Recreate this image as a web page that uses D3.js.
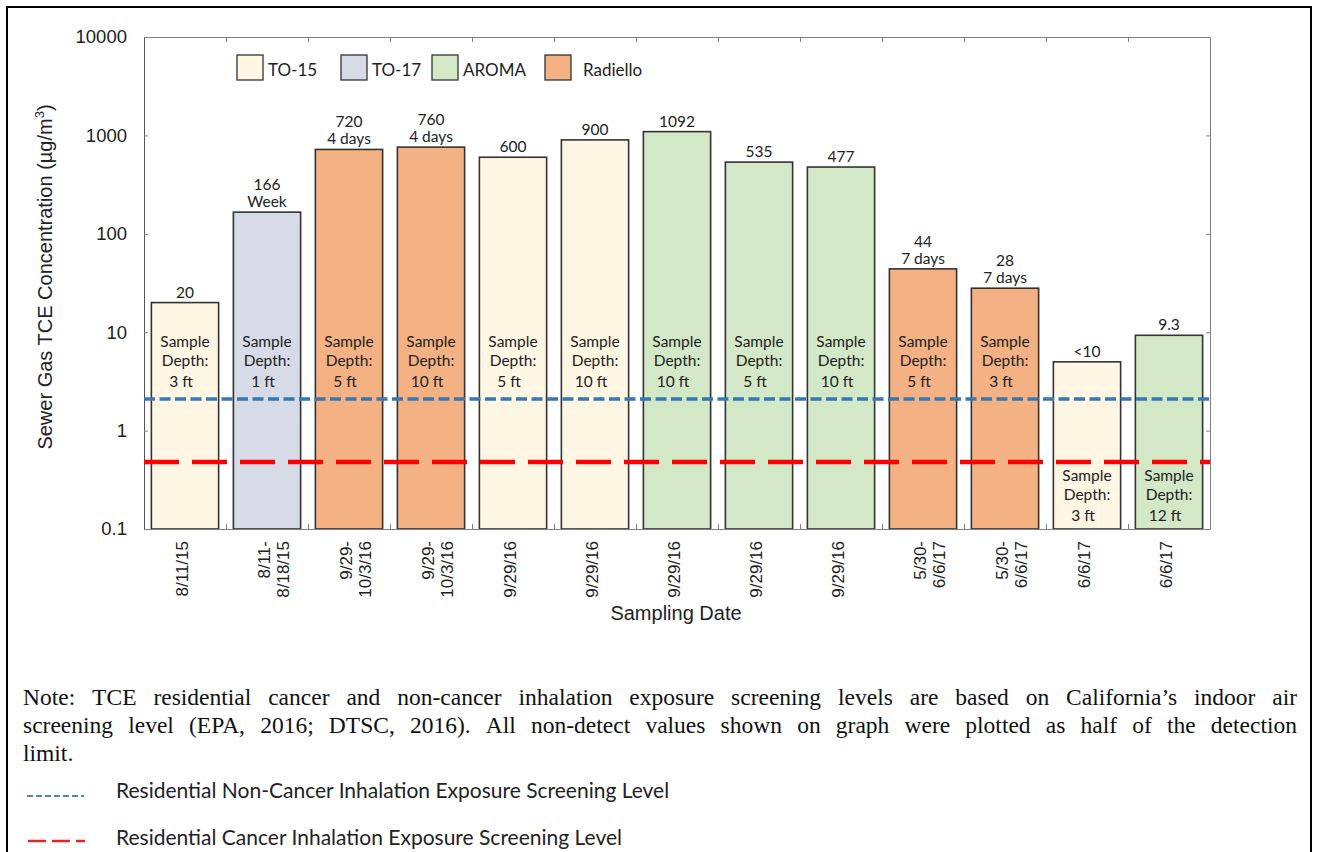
<!DOCTYPE html>
<html>
<head>
<meta charset="utf-8">
<script src="https://cdnjs.cloudflare.com/ajax/libs/d3/7.8.5/d3.min.js"></script>
<style>
  body { margin: 0; background: #fff; }
  svg { display: block; }
</style>
</head>
<body>
<svg id="chart"></svg>
<script>
// Chart data
var dates = [["8/11/15"], ["8/11-", "8/18/15"], ["9/29-", "10/3/16"], ["9/29-", "10/3/16"],
  ["9/29/16"], ["9/29/16"], ["9/29/16"], ["9/29/16"], ["9/29/16"],
  ["5/30-", "6/6/17"], ["5/30-", "6/6/17"], ["6/6/17"], ["6/6/17"]];
var methods = ["TO-15", "TO-17", "Radiello", "Radiello", "TO-15", "TO-15", "AROMA",
  "AROMA", "AROMA", "Radiello", "Radiello", "TO-15", "AROMA"];
// non-detect (<10) plotted as half the detection limit
var values = [20, 166, 720, 760, 600, 900, 1092, 535, 477, 44, 28, 5, 9.3];
var valueLabels = [["20"], ["166", "Week"], ["720", "4 days"], ["760", "4 days"], ["600"], ["900"],
  ["1092"], ["535"], ["477"], ["44", "7 days"], ["28", "7 days"], ["<10"], ["9.3"]];
var depths = ["3 ft", "1 ft", "5 ft", "10 ft", "5 ft", "10 ft", "10 ft", "5 ft", "10 ft",
  "5 ft", "3 ft", "3 ft", "12 ft"];
var legendNames = ["TO-15", "TO-17", "AROMA", "Radiello"];
var yTicks = [0.1, 1, 10, 100, 1000, 10000];
var yTickLabels = ["0.1", "1", "10", "100", "1000", "10000"];
var nonCancerLevel = 2.1;
var cancerLevel = 0.48;

// Define size & plot box
var width = 1319,
    height = 852,
    plotLeft = 144, plotRight = 1210, plotTop = 37, plotBottom = 529;

var colour = d3.scaleOrdinal()
  .domain(legendNames)
  .range(["#fff6e3", "#d6dbe7", "#d3e8c6", "#f4b183"]);

var x = d3.scaleBand()
  .domain(d3.range(values.length))
  .range([plotLeft, plotRight])
  .paddingInner(0.18)
  .paddingOuter(0.09);

// band boundaries for the tick marks
var xEdge = d3.scaleLinear().domain([0, values.length]).range([plotLeft, plotRight]);

var y = d3.scaleLog()
  .domain([0.1, 10000])
  .range([plotBottom, plotTop]);

var svg = d3.select("#chart")
  .attr("width", width)
  .attr("height", height);

// outer frame
svg.append("path")
  .attr("d", "M7,860V7H1311V860")
  .attr("fill", "none")
  .attr("stroke", "#000")
  .attr("stroke-width", 2);

// Bars
svg.selectAll(".bar")
  .data(values)
  .enter().append("rect")
  .attr("class", "bar")
  .attr("x", function (d, i) { return x(i); })
  .attr("y", function (d) { return y(d); })
  .attr("width", x.bandwidth())
  .attr("height", function (d) { return y(0.1) - y(d); })
  .attr("fill", function (d, i) { return colour(methods[i]); })
  .attr("stroke", "#333")
  .attr("stroke-width", 1.6);

// Axes
function styleAxis(g) {
  g.selectAll("path").attr("stroke", "#808080");
  g.selectAll("line").attr("stroke", "#808080");
}

svg.append("g")
  .attr("transform", "translate(0," + plotTop + ")")
  .call(d3.axisTop(xEdge).tickValues(d3.range(1, values.length)).tickSize(-5).tickSizeOuter(0).tickFormat(""))
  .call(styleAxis);

svg.append("g")
  .attr("transform", "translate(0," + plotBottom + ")")
  .call(d3.axisBottom(xEdge).tickValues(d3.range(1, values.length)).tickSize(-5).tickSizeOuter(0).tickFormat(""))
  .call(styleAxis);

svg.append("g")
  .attr("transform", "translate(" + plotRight + ",0)")
  .call(d3.axisRight(y).tickValues(yTicks).tickSize(-4).tickSizeOuter(0).tickFormat(""))
  .call(styleAxis);

var yAxis = svg.append("g")
  .attr("transform", "translate(" + plotLeft + ",0)")
  .call(d3.axisLeft(y).tickValues(yTicks).tickSize(-4).tickSizeOuter(0).tickPadding(17)
    .tickFormat(function (d, i) { return yTickLabels[i]; }))
  .call(styleAxis);
yAxis.select("path").attr("stroke", "#555");
yAxis.selectAll("text")
  .attr("font-family", "Liberation Sans, Arial, sans-serif")
  .attr("font-size", 18.5)
  .attr("fill", "#222");

// x tick labels (rotated)
var xl = svg.selectAll(".xlab")
  .data(dates)
  .enter().append("g")
  .attr("class", "xlab");
xl.each(function (lines, i) {
  var g = d3.select(this);
  lines.forEach(function (t, j) {
    var cx = x(i) + x.bandwidth() / 2 - 3 + j * 19;
    g.append("text")
      .attr("transform", "translate(" + (cx + 6) + ",541) rotate(-90)")
      .attr("text-anchor", "end")
      .attr("font-family", "Liberation Sans, Arial, sans-serif")
      .attr("font-size", 17)
      .attr("fill", "#222")
      .text(t);
  });
});

// Axis titles
svg.append("text")
  .attr("x", 676)
  .attr("y", 620)
  .attr("text-anchor", "middle")
  .attr("font-family", "Liberation Sans, Arial, sans-serif")
  .attr("font-size", 20)
  .attr("fill", "#222")
  .text("Sampling Date");

var yTitle = svg.append("text")
  .attr("transform", "translate(52,277) rotate(-90)")
  .attr("text-anchor", "middle")
  .attr("font-family", "Liberation Sans, Arial, sans-serif")
  .attr("font-size", 20)
  .attr("fill", "#222");
yTitle.append("tspan").text("Sewer Gas TCE Concentration (µg/m");
yTitle.append("tspan").attr("dy", -8).attr("font-size", 13).text("3");
yTitle.append("tspan").attr("dy", 8).text(")");

// Screening levels
svg.append("line")
  .attr("x1", plotLeft).attr("x2", plotRight)
  .attr("y1", y(nonCancerLevel)).attr("y2", y(nonCancerLevel))
  .attr("stroke", "#3478b8")
  .attr("stroke-width", 3.5)
  .attr("stroke-dasharray", "11,4.5");

svg.append("line")
  .attr("x1", plotLeft).attr("x2", plotRight)
  .attr("y1", y(cancerLevel)).attr("y2", y(cancerLevel))
  .attr("stroke", "#ff0000")
  .attr("stroke-width", 4.5)
  .attr("stroke-dasharray", "35,13");

// Value labels above the bars
var calibri = "Lato, Carlito, Calibri, sans-serif";
svg.selectAll(".vlab")
  .data(valueLabels)
  .enter().append("text")
  .attr("class", "vlab")
  .attr("text-anchor", "middle")
  .attr("font-family", calibri)
  .attr("font-size", 15.5)
  .attr("fill", "#222")
  .each(function (lines, i) {
    var t = d3.select(this);
    var cx = x(i) + x.bandwidth() / 2;
    var base = y(values[i]) - 5 - (lines.length - 1) * 17;
    lines.forEach(function (s, j) {
      t.append("tspan").attr("x", cx).attr("y", base + j * 17).text(s);
    });
  });

// Sample depth labels inside the bars
svg.selectAll(".dlab")
  .data(depths)
  .enter().append("text")
  .attr("class", "dlab")
  .attr("text-anchor", "middle")
  .attr("font-family", calibri)
  .attr("font-size", 15.5)
  .attr("fill", "#222")
  .each(function (d, i) {
    var t = d3.select(this);
    var cx = x(i) + x.bandwidth() / 2;
    // short bars carry the label below the screening lines
    var y0 = values[i] < 15 ? y(0.35) + 6 : y(8.2) + 6;
    t.append("tspan").attr("x", cx).attr("y", y0).text("Sample");
    t.append("tspan").attr("x", cx).attr("y", y0 + 19).text("Depth:");
    t.append("tspan").attr("x", cx - 4).attr("y", y0 + 40).text(d);
  });

// Method legend
var legendX = [237, 341, 432, 545];
var lg = svg.selectAll(".legend")
  .data(legendNames)
  .enter().append("g")
  .attr("class", "legend")
  .attr("transform", function (d, i) { return "translate(" + legendX[i] + ",55)"; });
lg.append("rect")
  .attr("width", 26).attr("height", 25)
  .attr("fill", function (d) { return colour(d); })
  .attr("stroke", "#333")
  .attr("stroke-width", 1.3);
lg.append("text")
  .attr("x", function (d, i) { return i == 3 ? 38 : 31; })
  .attr("y", 21)
  .attr("font-family", calibri)
  .attr("font-size", 17)
  .attr("fill", "#222")
  .text(function (d) { return d; });

// Note (justified lines)
var noteLines = [
  "Note: TCE residential cancer and non-cancer inhalation exposure screening levels are based on California\u2019s indoor air",
  "screening level (EPA, 2016; DTSC, 2016). All non-detect values shown on graph were plotted as half of the detection",
  "limit."
];
noteLines.forEach(function (line, k) {
  var words = line.split(" ");
  var g = svg.append("g");
  var widths = [];
  var texts = words.map(function (w) {
    var t = g.append("text")
      .attr("y", 705 + k * 28)
      .attr("font-family", "Liberation Serif, Times New Roman, serif")
      .attr("font-size", 23.5)
      .attr("fill", "#111")
      .text(w);
    widths.push(t.node().getComputedTextLength());
    return t;
  });
  var total = d3.sum(widths);
  var gap = k < 2 ? (1297 - 23 - total) / (words.length - 1) : 6;
  var cx = 23;
  texts.forEach(function (t, j) {
    t.attr("x", cx);
    cx += widths[j] + gap;
  });
});

// Screening level legend
svg.append("line")
  .attr("x1", 27).attr("x2", 84).attr("y1", 796).attr("y2", 796)
  .attr("stroke", "#4f86b8").attr("stroke-width", 2)
  .attr("stroke-dasharray", "6,3");
svg.append("line")
  .attr("x1", 28).attr("x2", 85).attr("y1", 841).attr("y2", 841)
  .attr("stroke", "#e0262b").attr("stroke-width", 2.5)
  .attr("stroke-dasharray", "18,6");
svg.append("text")
  .attr("x", 116).attr("y", 798)
  .attr("font-family", calibri).attr("font-size", 21).attr("fill", "#222")
  .text("Residential Non-Cancer Inhalation Exposure Screening Level");
svg.append("text")
  .attr("x", 116).attr("y", 845)
  .attr("font-family", calibri).attr("font-size", 21).attr("fill", "#222")
  .text("Residential Cancer Inhalation Exposure Screening Level");
</script>
</body>
</html>
